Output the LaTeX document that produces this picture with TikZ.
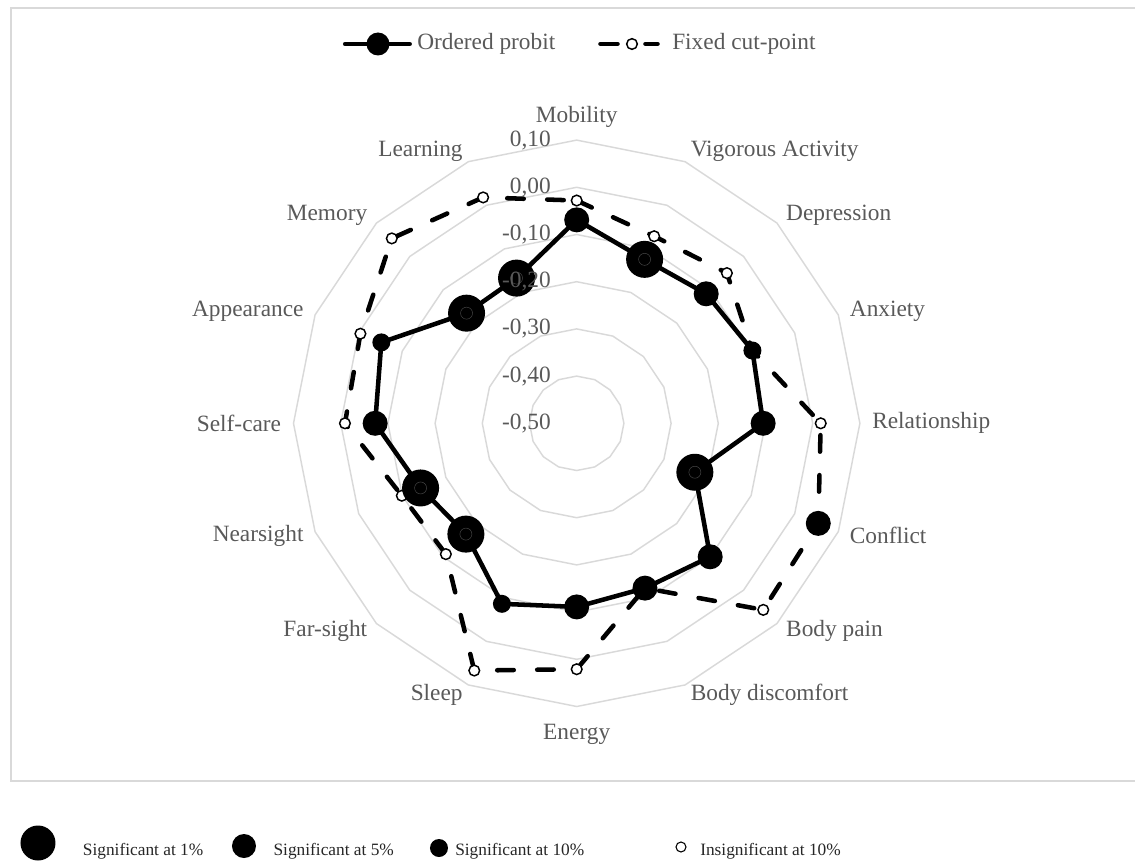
\documentclass[tikz,border=0pt]{standalone}
\usepackage{fontspec}
\setmainfont{Liberation Serif}
\definecolor{txtgrey}{HTML}{595959}
\definecolor{ringgrey}{HTML}{D9D9D9}
\tikzset{
  ring/.style={draw=ringgrey, line width=1.1pt},
  frame/.style={draw=ringgrey, line width=0.9pt},
  solidser/.style={draw=black, line width=3.4pt, line join=round},
  dashser/.style={draw=black, line width=3.4pt, line cap=round, line join=round, dash pattern=on 12.4pt off 17.6pt},
  legseg/.style={draw=black, line width=3.4pt, line cap=round},
  mkA/.style={circle, fill=black, inner sep=0pt, minimum size=27.75pt},
  mkB/.style={circle, fill=black, inner sep=0pt, minimum size=18.75pt},
  mkC/.style={circle, fill=black, inner sep=0pt, minimum size=13.5pt},
  mkO/.style={circle, fill=white, draw=black, line width=1.1pt, inner sep=0pt, minimum size=8pt},
  mkL/.style={circle, fill=black, inner sep=0pt, minimum size=17.25pt},
  innerring/.style={circle, draw=black!72, line width=0.35pt, inner sep=0pt, minimum size=9pt},
  axlab/.style={text=txtgrey, font=\fontsize{17.5}{21}\selectfont, inner sep=1pt},
  ticklab/.style={text=txtgrey, font=\fontsize{17.5}{21}\selectfont, inner sep=0pt, anchor=east},
  leglab/.style={text=txtgrey, font=\fontsize{17.5}{21}\selectfont, inner sep=0pt, anchor=west},
  keylab/.style={text=black!85, font=\fontsize{13}{15}\selectfont, inner sep=0pt, anchor=base west},
  keyA/.style={circle, fill=black, inner sep=0pt, minimum size=26.25pt},
  keyB/.style={circle, fill=black, inner sep=0pt, minimum size=18pt},
  keyC/.style={circle, fill=black, inner sep=0pt, minimum size=13.5pt},
  keyO/.style={circle, fill=white, draw=black, line width=0.8pt, inner sep=0pt, minimum size=7.5pt}
}
\begin{document}
\begin{tikzpicture}[x=0.75pt,y=0.75pt]
\useasboundingbox (-576.7,-437.7) rectangle (558.3,423.3);
% chart frame
\draw[frame] (-565.7,-357.7) rectangle (570,415.3);
% rings
\foreach \r in {47.2,94.4,141.6,188.8,236,283.2}{
  \draw[ring] (90:\r) \foreach \j in {1,...,15}{ -- ({90-22.5*\j}:\r)} -- cycle;
}
% data coordinates
\foreach \k/\v in {0/-0.069,1/-0.124,2/-0.112,3/-0.097,4/-0.105,5/-0.229,6/-0.100,7/-0.122,8/-0.111,9/-0.086,10/-0.168,11/-0.142,12/-0.073,13/-0.052,14/-0.170,15/-0.167}{
  \coordinate (s\k) at ({90-22.5*\k}:{(\v+0.5)*472});
}
\foreach \k/\v in {0/-0.028,1/-0.071,2/-0.050,3/-0.097,4/0.017,5/0.054,6/0.059,7/-0.122,8/0.021,9/0.067,10/-0.108,11/-0.099,12/-0.009,13/-0.004,14/0.054,15/0.018}{
  \coordinate (d\k) at ({90-22.5*\k}:{(\v+0.5)*472});
}
% fixed cut-point series
\draw[dashser] (d0) \foreach \k in {1,...,15}{ -- (d\k)} -- cycle;
\foreach \k/\m in {0/O,1/O,2/O,3/O,4/O,5/B,6/O,7/O,8/O,9/O,10/O,11/O,12/O,13/O,14/O,15/O}{
  \node[mk\m] (md\k) at (d\k) {};
}
% ordered probit series
\draw[solidser] (s0) \foreach \k in {1,...,15}{ -- (s\k)} -- cycle;
\foreach \k/\m in {0/B,1/A,2/B,3/C,4/B,5/A,6/B,7/B,8/B,9/C,10/A,11/A,12/B,13/C,14/A,15/A}{
  \node[mk\m] (ms\k) at (s\k) {};
}
\foreach \k in {1,5,10,11,14,15}{
  \node[innerring] (ir\k) at (s\k) {};
}
% axis labels
\foreach \k/\name/\anc/\rr in {0/Mobility/south/294,1/Vigorous Activity/west/294,2/Depression/west/294,3/Anxiety/west/294,4/Relationship/west/294,5/Conflict/west/294,6/Body pain/west/294,7/Body discomfort/west/294,8/Energy/north/299,9/Sleep/east/294,10/Far-sight/east/294,11/Nearsight/east/294,12/Self-care/east/294,13/Appearance/east/294,14/Memory/east/294,15/Learning/east/294}{
  \node[axlab, anchor=\anc] (ax\k) at ({90-22.5*\k}:\rr) {\name};
}
% tick labels
\foreach \r/\t in {0/{-0,50},47.2/{-0,40},94.4/{-0,30},141.6/{-0,20},188.8/{-0,10},236/{0,00},283.2/{0,10}}{
  \node[ticklab] (tk\r) at (-25.7,\r) {\t};
}
% top legend
\coordinate (la) at (-231.5,379.3);
\coordinate (lb) at (-167,379.3);
\draw[legseg] (la) -- (lb);
\node[mkL] (lm1) at (-198.7,379.3) {};
\node[leglab] (lt1) at (-159.7,379.3) {Ordered probit};
\coordinate (lc) at (23.8,379.3);
\coordinate (ld) at (40.8,379.3);
\coordinate (le) at (68.8,379.3);
\coordinate (lf) at (80.8,379.3);
\draw[legseg] (lc) -- (ld);
\draw[legseg] (le) -- (lf);
\node[mkO] (lm2) at (55.3,379.3) {};
\node[leglab] (lt2) at (95.3,379.3) {Fixed cut-point};
% significance key
\node[keyA] (k1) at (-538.7,-419.7) {};
\node[keylab] (kt1) at (-494,-431.7) {Significant at 1\%};
\node[keyB] (k2) at (-332.7,-422.7) {};
\node[keylab] (kt2) at (-303.4,-431.7) {Significant at 5\%};
\node[keyC] (k3) at (-137.7,-424.7) {};
\node[keylab] (kt3) at (-121.7,-431.7) {Significant at 10\%};
\node[keyO] (k4) at (104.3,-423.7) {};
\node[keylab] (kt4) at (123.3,-431.7) {Insignificant at 10\%};
\end{tikzpicture}
\end{document}
